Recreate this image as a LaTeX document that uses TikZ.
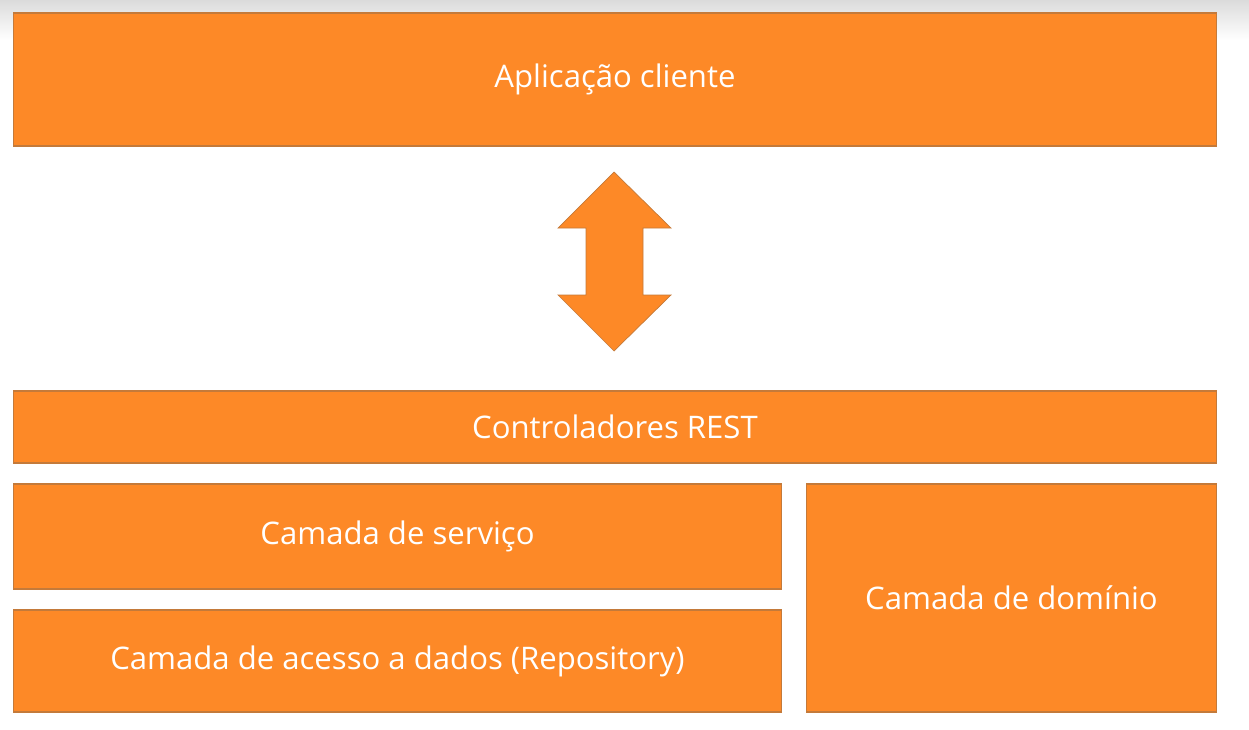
\documentclass[tikz,border=0pt]{standalone}
\usepackage{fontspec}
\setmainfont{Open Sans}
\definecolor{laranja}{RGB}{253,137,39}
\definecolor{borda}{RGB}{196,122,58}
\tikzset{
	camada/.style={draw=borda, fill=laranja, line width=0.6pt, inner sep=0pt,
		text=white, font=\fontsize{17.7}{22}\selectfont},
}
\begin{document}
\begin{tikzpicture}[x=0.02cm, y=-0.02cm]
	\useasboundingbox (0, 0) rectangle (1249, 730);
	\shade[top color=black!14, bottom color=white] (0, 0) rectangle (1249, 40);

	\node[camada, minimum width=24.08cm, minimum height=2.66cm] (cliente) at (615, 79.5) {Aplicação cliente};
	\node[camada, minimum width=24.08cm, minimum height=1.44cm] (rest) at (615, 427) {Controladores REST};
	\node[camada, minimum width=15.38cm, minimum height=2.10cm] (servico) at (397.5, 536.5) {Camada de serviço};
	\node[camada, minimum width=15.38cm, minimum height=2.04cm] (dados) at (397.5, 661) {Camada de acesso a dados (Repository)};
	\node[camada, minimum width=8.22cm, minimum height=4.56cm] (dominio) at (1011.5, 598) {Camada de domínio};

	% seta dupla entre cliente e controladores
	\draw[draw=borda, fill=laranja, line width=0.4pt] (614, 172) -- (671, 228) -- (643, 228) -- (643, 295)
		-- (671, 295) -- (614, 351) -- (558, 295) -- (586, 295) -- (586, 228) -- (558, 228) -- cycle;
\end{tikzpicture}
\end{document}
